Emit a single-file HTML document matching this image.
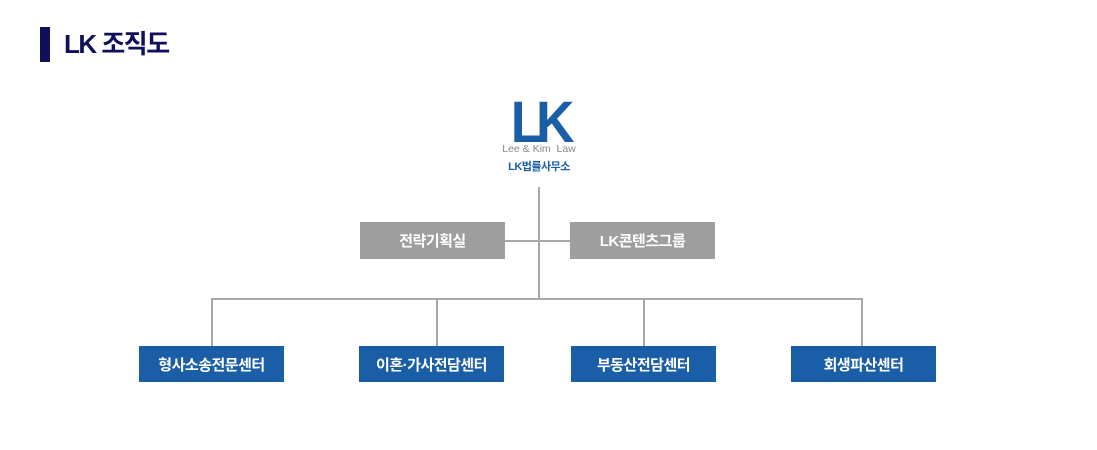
<!DOCTYPE html>
<html><head><meta charset="utf-8"><style>
*{margin:0;padding:0;box-sizing:border-box}
body{width:1097px;height:450px;background:#fff;position:relative;overflow:hidden;font-family:"Liberation Sans","Noto Sans CJK KR",sans-serif}
.a{position:absolute}
.ln{position:absolute;background:#a8a8a8}
.box{position:absolute;color:#fff;font-size:15px;font-weight:bold;display:flex;align-items:center;justify-content:center;letter-spacing:-0.5px}
.g{background:#9e9e9e;top:222px;height:37px;width:145px}
.b{background:#1a5ea7;top:346px;height:36px;width:145px}
</style></head><body>
<div class="a" style="left:40px;top:27px;width:10px;height:35px;background:#0f0f5c"></div>
<div class="a" style="left:64px;top:27px;font-size:26px;font-weight:bold;color:#0f0f5c;letter-spacing:-1.5px;line-height:34px">LK 조직도</div>

<div class="a" style="left:503px;top:94px;width:72px;text-align:center;font-size:58px;font-weight:bold;color:#1a5ea7;letter-spacing:-8px;line-height:58px;transform:scaleX(0.92)">LK</div>
<div class="a" style="left:490px;top:142px;width:98px;text-align:center;font-size:10.5px;color:#888;line-height:14px">Lee &amp; Kim&nbsp; Law</div>
<div class="a" style="left:490px;top:159px;width:98px;text-align:center;font-size:11px;font-weight:bold;color:#1a5ea7;line-height:16px;letter-spacing:-0.5px">LK법률사무소</div>

<div class="ln" style="left:538px;top:187px;width:2px;height:113px"></div>
<div class="ln" style="left:504px;top:240px;width:67px;height:2px"></div>
<div class="ln" style="left:211px;top:298px;width:652px;height:2px"></div>
<div class="ln" style="left:211px;top:298px;width:2px;height:48px"></div>
<div class="ln" style="left:436px;top:298px;width:2px;height:48px"></div>
<div class="ln" style="left:643px;top:298px;width:2px;height:48px"></div>
<div class="ln" style="left:861px;top:298px;width:2px;height:48px"></div>

<div class="box g" style="left:360px">전략기획실</div>
<div class="box g" style="left:570px">LK콘텐츠그룹</div>
<div class="box b" style="left:139px">형사소송전문센터</div>
<div class="box b" style="left:359px">이혼·가사전담센터</div>
<div class="box b" style="left:571px">부동산전담센터</div>
<div class="box b" style="left:791px">회생파산센터</div>
</body></html>
